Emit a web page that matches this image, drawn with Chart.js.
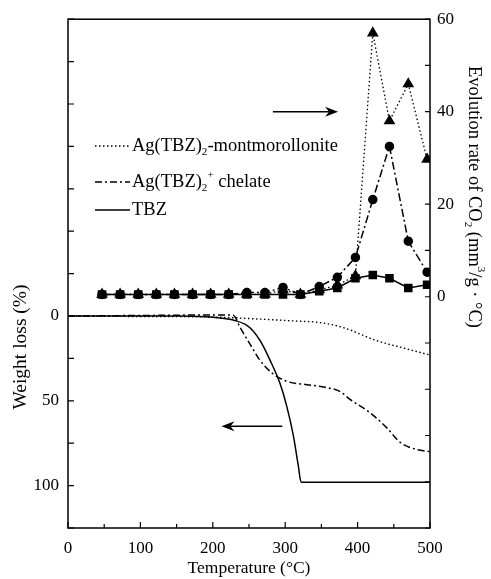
<!DOCTYPE html>
<html>
<head>
<meta charset="utf-8">
<script src="https://cdn.jsdelivr.net/npm/chart.js@4"></script>
<style>
  html, body { margin: 0; padding: 0; background: #fff; }
  #wrap { width: 491px; height: 579px; }
</style>
</head>
<body>
<div id="wrap"><canvas id="tgaChart"></canvas></div>
<script>
// CO2 evolution rate (right axis), marker series
const co2Temps = [47, 72, 97, 122, 147, 172, 197, 222, 247, 272, 297, 321, 347, 372, 397, 421, 444, 470, 496];
const co2Montmorillonite = [0.5, 0.5, 0.5, 0.5, 0.5, 0.5, 0.5, 0.5, 0.5, 0.5, 1.5, 0.5, 1.5, 2.5, 4.5, 57, 38, 46, 29.7];
const co2Chelate = [0.5, 0.5, 0.5, 0.5, 0.5, 0.5, 0.5, 0.5, 0.9, 0.9, 2.0, 0.5, 2.2, 4.2, 8.5, 21, 32.5, 12, 5.3];
const co2TBZ = [0.5, 0.5, 0.5, 0.5, 0.5, 0.5, 0.5, 0.5, 0.5, 0.5, 0.5, 0.5, 1.2, 1.9, 4.0, 4.7, 4.0, 1.9, 2.6];

// Weight loss curves (left axis, reversed)
const tbzTemps = [0, 150, 190, 210, 230, 245, 256, 266, 279, 293, 302, 311, 318, 322, 400, 500];
const tbzLoss = [0, 0, 0.4, 1.2, 2.6, 5, 9, 15, 26, 40, 53, 70, 88, 98, 98, 98];
const chelateTemps = [0, 100, 200, 228, 238, 252, 265, 283, 302, 330, 355, 376, 389, 417, 440, 459, 480, 500];
const chelateLoss = [0, -0.3, -0.6, -0.5, 7, 17, 26, 34, 38.5, 40.5, 42, 44.6, 49, 57, 65.8, 74.6, 78.5, 80];
const montTemps = [0, 100, 200, 250, 311, 348, 380, 426, 460, 500];
const montLoss = [0, 0.3, 0.6, 1.5, 2.9, 3.9, 6.8, 14.5, 18.5, 23];

// tick labels shown
const xLabels = [0, 100, 200, 300, 400, 500];
const leftLabels = [0, 50, 100];
const rightLabels = [0, 20, 40, 60];

const serif = '"Liberation Serif", "DejaVu Serif", serif';

function pts(xs, ys) {
    return xs.map((x, i) => ({ x: x, y: ys[i] }));
}

// draw a run of text pieces with sub/superscripts, starting at x (middle baseline)
function drawRich(ctx, parts, x, y, size) {
    parts.forEach(p => {
        let s = size, dy = 0;
        if (p.sub) { s = size * 0.6; dy = size * 0.35; }
        if (p.sup) { s = size * 0.6; dy = -size * 0.35; }
        ctx.font = s + 'px ' + serif;
        ctx.fillText(p.t, x, y + dy);
        x += ctx.measureText(p.t).width;
    });
    return x;
}

function richWidth(ctx, parts, size) {
    let w = 0;
    parts.forEach(p => {
        const s = (p.sub || p.sup) ? size * 0.6 : size;
        ctx.font = s + 'px ' + serif;
        w += ctx.measureText(p.t).width;
    });
    return w;
}

function arrow(ctx, x1, x2, y) {
    const dir = Math.sign(x2 - x1);
    ctx.beginPath();
    ctx.moveTo(x1, y);
    ctx.lineTo(x2 - dir * 6, y);
    ctx.lineWidth = 1.5;
    ctx.stroke();
    ctx.beginPath();
    ctx.moveTo(x2, y);
    ctx.lineTo(x2 - dir * 13, y - 5);
    ctx.lineTo(x2 - dir * 9, y);
    ctx.lineTo(x2 - dir * 13, y + 5);
    ctx.closePath();
    ctx.fill();
}

const decorations = {
    id: 'decorations',
    afterDraw(chart) {
        const ctx = chart.ctx;
        const a = chart.chartArea;
        const sx = chart.scales.x, sl = chart.scales.yL, sr = chart.scales.yR;
        ctx.save();
        ctx.strokeStyle = '#000';
        ctx.fillStyle = '#000';

        // frame
        ctx.lineWidth = 1.5;
        ctx.strokeRect(a.left, a.top, a.right - a.left, a.bottom - a.top);

        // inward ticks
        ctx.lineWidth = 1.2;
        ctx.beginPath();
        sx.ticks.forEach(t => {
            const px = sx.getPixelForValue(t.value);
            const len = t.value % 100 === 0 ? 6 : 4;
            ctx.moveTo(px, a.bottom);
            ctx.lineTo(px, a.bottom - len);
        });
        sl.ticks.forEach(t => {
            const py = sl.getPixelForValue(t.value);
            ctx.moveTo(a.left, py);
            ctx.lineTo(a.left + 6, py);
        });
        sr.ticks.forEach(t => {
            const py = sr.getPixelForValue(t.value);
            ctx.moveTo(a.right, py);
            ctx.lineTo(a.right - 5, py);
        });
        ctx.stroke();

        // legend
        const rows = [
            { dash: [1.5, 2.5], y: 146, parts: [{ t: 'Ag(TBZ)' }, { t: '2', sub: true }, { t: '-montmorollonite' }] },
            { dash: [7, 3, 2, 3], y: 182, parts: [{ t: 'Ag(TBZ)' }, { t: '2', sub: true }, { t: '+', sup: true }, { t: ' chelate' }] },
            { dash: [], y: 210, parts: [{ t: 'TBZ' }] }
        ];
        ctx.textBaseline = 'middle';
        ctx.textAlign = 'left';
        rows.forEach(r => {
            ctx.setLineDash(r.dash);
            ctx.lineWidth = 1.4;
            ctx.beginPath();
            ctx.moveTo(95, r.y);
            ctx.lineTo(130, r.y);
            ctx.stroke();
            ctx.setLineDash([]);
            drawRich(ctx, r.parts, 132, r.y, 18.5);
        });

        // arrows
        arrow(ctx, sx.getPixelForValue(283), sx.getPixelForValue(373), sr.getPixelForValue(40));
        arrow(ctx, sx.getPixelForValue(296), sx.getPixelForValue(212), sl.getPixelForValue(65));

        // left title
        ctx.save();
        ctx.translate(21, 347);
        ctx.rotate(-Math.PI / 2);
        ctx.textAlign = 'center';
        ctx.font = '19.5px ' + serif;
        ctx.fillText('Weight loss (%)', 0, 0);
        ctx.restore();

        // right title
        const rt = [{ t: 'Evolution rate of CO' }, { t: '2', sub: true }, { t: ' (mm' }, { t: '3', sup: true }, { t: '/g · °C)' }];
        ctx.save();
        ctx.translate(474, 197);
        ctx.rotate(Math.PI / 2);
        const w = richWidth(ctx, rt, 18.5);
        drawRich(ctx, rt, -w / 2, 0, 18.5);
        ctx.restore();

        ctx.restore();
    }
};

const tickFont = { family: serif, size: 17 };

new Chart(document.getElementById('tgaChart'), {
    type: 'line',
    data: {
        datasets: [
            {
                label: 'Ag(TBZ)2-montmorollonite CO2',
                data: pts(co2Temps, co2Montmorillonite),
                yAxisID: 'yR',
                borderColor: '#000', backgroundColor: '#000',
                borderWidth: 1.3, borderDash: [1.5, 2.5],
                pointStyle: 'triangle', pointRadius: 5.5,
                tension: 0
            },
            {
                label: 'Ag(TBZ)2+ chelate CO2',
                data: pts(co2Temps, co2Chelate),
                yAxisID: 'yR',
                borderColor: '#000', backgroundColor: '#000',
                borderWidth: 1.5, borderDash: [8, 3, 2, 3],
                pointStyle: 'circle', pointRadius: 4,
                tension: 0
            },
            {
                label: 'TBZ CO2',
                data: pts(co2Temps, co2TBZ),
                yAxisID: 'yR',
                borderColor: '#000', backgroundColor: '#000',
                borderWidth: 1.5,
                pointStyle: 'rect', pointRadius: 5,
                tension: 0
            },
            {
                label: 'Ag(TBZ)2-montmorollonite',
                data: pts(montTemps, montLoss),
                yAxisID: 'yL',
                borderColor: '#000',
                borderWidth: 1.4, borderDash: [1.5, 2.5],
                pointRadius: 0,
                cubicInterpolationMode: 'monotone'
            },
            {
                label: 'Ag(TBZ)2+ chelate',
                data: pts(chelateTemps, chelateLoss),
                yAxisID: 'yL',
                borderColor: '#000',
                borderWidth: 1.5, borderDash: [7, 3, 2, 3],
                pointRadius: 0,
                cubicInterpolationMode: 'monotone'
            },
            {
                label: 'TBZ',
                data: pts(tbzTemps, tbzLoss),
                yAxisID: 'yL',
                borderColor: '#000',
                borderWidth: 1.5,
                pointRadius: 0,
                cubicInterpolationMode: 'monotone'
            }
        ]
    },
    options: {
        responsive: true,
        maintainAspectRatio: false,
        animation: false,
        layout: { padding: { top: 13, left: 0, right: 0, bottom: 0 } },
        plugins: {
            legend: { display: false },
            tooltip: { enabled: false }
        },
        scales: {
            x: {
                type: 'linear',
                min: 0, max: 500,
                grid: { display: false, drawTicks: false },
                border: { display: false },
                ticks: {
                    stepSize: 50, autoSkip: false, maxRotation: 0, padding: 10,
                    color: '#000', font: tickFont,
                    callback: v => xLabels.includes(v) ? String(v) : ''
                },
                title: {
                    display: true, text: 'Temperature (°C)', color: '#000',
                    font: { family: serif, size: 17.5 }, padding: { top: 2, bottom: 0 }
                },
                afterFit: s => { s.height = 51; }
            },
            yL: {
                position: 'left',
                reverse: true,
                min: -175, max: 125,
                grid: { display: false, drawTicks: false },
                border: { display: false },
                ticks: {
                    stepSize: 25, autoSkip: false, padding: 9,
                    color: '#000', font: tickFont,
                    callback: v => leftLabels.includes(v) ? String(v) : ''
                },
                afterFit: s => { s.width = 68; }
            },
            yR: {
                position: 'right',
                min: -50, max: 60,
                grid: { display: false, drawTicks: false },
                border: { display: false },
                ticks: {
                    stepSize: 10, autoSkip: false, padding: 7,
                    color: '#000', font: tickFont,
                    callback: v => rightLabels.includes(v) ? String(v) : ''
                },
                afterFit: s => { s.width = 61; }
            }
        }
    },
    plugins: [decorations]
});
</script>
</body>
</html>
